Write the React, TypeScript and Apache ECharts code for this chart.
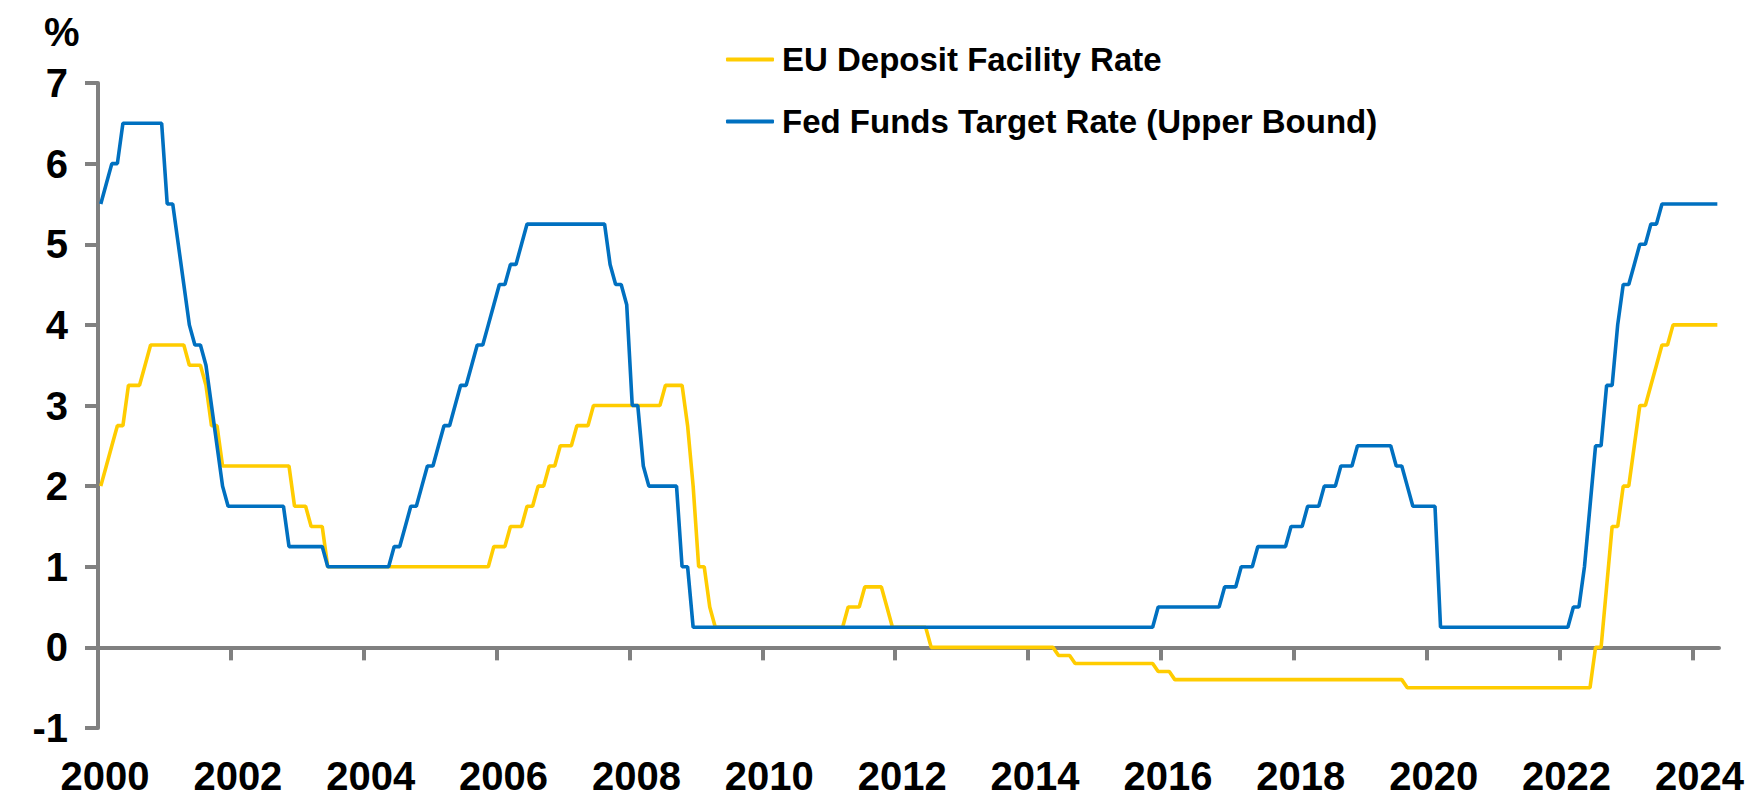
import React, { useEffect, useRef } from "react";
import * as echarts from "echarts";

// Monthly observations, Jan 2000 – May 2024 (month-end policy rate, %)
const startYear = 2000;
const endYear = 2024;
const lastMonthOfEndYear = 5; // data through May 2024

const depositRate: number[] = [
  // 2000
  2.0, 2.25, 2.5, 2.75, 2.75, 3.25, 3.25, 3.25, 3.5, 3.75, 3.75, 3.75,
  // 2001
  3.75, 3.75, 3.75, 3.75, 3.5, 3.5, 3.5, 3.25, 2.75, 2.75, 2.25, 2.25,
  // 2002
  2.25, 2.25, 2.25, 2.25, 2.25, 2.25, 2.25, 2.25, 2.25, 2.25, 2.25, 1.75,
  // 2003
  1.75, 1.75, 1.5, 1.5, 1.5, 1.0, 1.0, 1.0, 1.0, 1.0, 1.0, 1.0,
  // 2004
  1.0, 1.0, 1.0, 1.0, 1.0, 1.0, 1.0, 1.0, 1.0, 1.0, 1.0, 1.0,
  // 2005
  1.0, 1.0, 1.0, 1.0, 1.0, 1.0, 1.0, 1.0, 1.0, 1.0, 1.0, 1.25,
  // 2006
  1.25, 1.25, 1.5, 1.5, 1.5, 1.75, 1.75, 2.0, 2.0, 2.25, 2.25, 2.5,
  // 2007
  2.5, 2.5, 2.75, 2.75, 2.75, 3.0, 3.0, 3.0, 3.0, 3.0, 3.0, 3.0,
  // 2008
  3.0, 3.0, 3.0, 3.0, 3.0, 3.0, 3.25, 3.25, 3.25, 3.25, 2.75, 2.0,
  // 2009
  1.0, 1.0, 0.5, 0.25, 0.25, 0.25, 0.25, 0.25, 0.25, 0.25, 0.25, 0.25,
  // 2010
  0.25, 0.25, 0.25, 0.25, 0.25, 0.25, 0.25, 0.25, 0.25, 0.25, 0.25, 0.25,
  // 2011
  0.25, 0.25, 0.25, 0.5, 0.5, 0.5, 0.75, 0.75, 0.75, 0.75, 0.5, 0.25,
  // 2012
  0.25, 0.25, 0.25, 0.25, 0.25, 0.25, 0.0, 0.0, 0.0, 0.0, 0.0, 0.0,
  // 2013
  0.0, 0.0, 0.0, 0.0, 0.0, 0.0, 0.0, 0.0, 0.0, 0.0, 0.0, 0.0,
  // 2014
  0.0, 0.0, 0.0, 0.0, 0.0, -0.1, -0.1, -0.1, -0.2, -0.2, -0.2, -0.2,
  // 2015
  -0.2, -0.2, -0.2, -0.2, -0.2, -0.2, -0.2, -0.2, -0.2, -0.2, -0.2, -0.3,
  // 2016
  -0.3, -0.3, -0.4, -0.4, -0.4, -0.4, -0.4, -0.4, -0.4, -0.4, -0.4, -0.4,
  // 2017
  -0.4, -0.4, -0.4, -0.4, -0.4, -0.4, -0.4, -0.4, -0.4, -0.4, -0.4, -0.4,
  // 2018
  -0.4, -0.4, -0.4, -0.4, -0.4, -0.4, -0.4, -0.4, -0.4, -0.4, -0.4, -0.4,
  // 2019
  -0.4, -0.4, -0.4, -0.4, -0.4, -0.4, -0.4, -0.4, -0.5, -0.5, -0.5, -0.5,
  // 2020
  -0.5, -0.5, -0.5, -0.5, -0.5, -0.5, -0.5, -0.5, -0.5, -0.5, -0.5, -0.5,
  // 2021
  -0.5, -0.5, -0.5, -0.5, -0.5, -0.5, -0.5, -0.5, -0.5, -0.5, -0.5, -0.5,
  // 2022
  -0.5, -0.5, -0.5, -0.5, -0.5, -0.5, 0.0, 0.0, 0.75, 1.5, 1.5, 2.0,
  // 2023
  2.0, 2.5, 3.0, 3.0, 3.25, 3.5, 3.75, 3.75, 4.0, 4.0, 4.0, 4.0,
  // 2024
  4.0, 4.0, 4.0, 4.0, 4.0,
];

const fedFundsUpper: number[] = [
  // 2000
  5.5, 5.75, 6.0, 6.0, 6.5, 6.5, 6.5, 6.5, 6.5, 6.5, 6.5, 6.5,
  // 2001
  5.5, 5.5, 5.0, 4.5, 4.0, 3.75, 3.75, 3.5, 3.0, 2.5, 2.0, 1.75,
  // 2002
  1.75, 1.75, 1.75, 1.75, 1.75, 1.75, 1.75, 1.75, 1.75, 1.75, 1.25, 1.25,
  // 2003
  1.25, 1.25, 1.25, 1.25, 1.25, 1.0, 1.0, 1.0, 1.0, 1.0, 1.0, 1.0,
  // 2004
  1.0, 1.0, 1.0, 1.0, 1.0, 1.25, 1.25, 1.5, 1.75, 1.75, 2.0, 2.25,
  // 2005
  2.25, 2.5, 2.75, 2.75, 3.0, 3.25, 3.25, 3.5, 3.75, 3.75, 4.0, 4.25,
  // 2006
  4.5, 4.5, 4.75, 4.75, 5.0, 5.25, 5.25, 5.25, 5.25, 5.25, 5.25, 5.25,
  // 2007
  5.25, 5.25, 5.25, 5.25, 5.25, 5.25, 5.25, 5.25, 4.75, 4.5, 4.5, 4.25,
  // 2008
  3.0, 3.0, 2.25, 2.0, 2.0, 2.0, 2.0, 2.0, 2.0, 1.0, 1.0, 0.25,
  // 2009
  0.25, 0.25, 0.25, 0.25, 0.25, 0.25, 0.25, 0.25, 0.25, 0.25, 0.25, 0.25,
  // 2010
  0.25, 0.25, 0.25, 0.25, 0.25, 0.25, 0.25, 0.25, 0.25, 0.25, 0.25, 0.25,
  // 2011
  0.25, 0.25, 0.25, 0.25, 0.25, 0.25, 0.25, 0.25, 0.25, 0.25, 0.25, 0.25,
  // 2012
  0.25, 0.25, 0.25, 0.25, 0.25, 0.25, 0.25, 0.25, 0.25, 0.25, 0.25, 0.25,
  // 2013
  0.25, 0.25, 0.25, 0.25, 0.25, 0.25, 0.25, 0.25, 0.25, 0.25, 0.25, 0.25,
  // 2014
  0.25, 0.25, 0.25, 0.25, 0.25, 0.25, 0.25, 0.25, 0.25, 0.25, 0.25, 0.25,
  // 2015
  0.25, 0.25, 0.25, 0.25, 0.25, 0.25, 0.25, 0.25, 0.25, 0.25, 0.25, 0.5,
  // 2016
  0.5, 0.5, 0.5, 0.5, 0.5, 0.5, 0.5, 0.5, 0.5, 0.5, 0.5, 0.75,
  // 2017
  0.75, 0.75, 1.0, 1.0, 1.0, 1.25, 1.25, 1.25, 1.25, 1.25, 1.25, 1.5,
  // 2018
  1.5, 1.5, 1.75, 1.75, 1.75, 2.0, 2.0, 2.0, 2.25, 2.25, 2.25, 2.5,
  // 2019
  2.5, 2.5, 2.5, 2.5, 2.5, 2.5, 2.25, 2.25, 2.0, 1.75, 1.75, 1.75,
  // 2020
  1.75, 1.75, 0.25, 0.25, 0.25, 0.25, 0.25, 0.25, 0.25, 0.25, 0.25, 0.25,
  // 2021
  0.25, 0.25, 0.25, 0.25, 0.25, 0.25, 0.25, 0.25, 0.25, 0.25, 0.25, 0.25,
  // 2022
  0.25, 0.25, 0.5, 0.5, 1.0, 1.75, 2.5, 2.5, 3.25, 3.25, 4.0, 4.5,
  // 2023
  4.5, 4.75, 5.0, 5.0, 5.25, 5.25, 5.5, 5.5, 5.5, 5.5, 5.5, 5.5,
  // 2024
  5.5, 5.5, 5.5, 5.5, 5.5,
];

const yearTicks = [2002, 2004, 2006, 2008, 2010, 2012, 2014, 2016, 2018, 2020, 2022, 2024];
const yearLabels = [2000, 2002, 2004, 2006, 2008, 2010, 2012, 2014, 2016, 2018, 2020, 2022, 2024];
const seriesNames = ["EU Deposit Facility Rate", "Fed Funds Target Rate (Upper Bound)"];
const seriesColors = ["#FFCC00", "#0070C0"];

// month positions (mid-month, in decimal years)
const monthPositions: number[] = [];
for (let y = startYear; y <= endYear; y++) {
  const last = y === endYear ? lastMonthOfEndYear : 12;
  for (let m = 0; m < last; m++) monthPositions.push(y + (m + 0.5) / 12);
}

const AXIS_GRAY = "#808080";
const FONT = "'Liberation Sans', Arial, sans-serif";

export default function App() {
  const ref = useRef<HTMLDivElement>(null);

  useEffect(() => {
    if (!ref.current) return;
    const chart = echarts.init(ref.current, undefined, { renderer: "svg" });
    const xMin = 2000;
    const xMax = 2024.4;

    chart.setOption({
      animation: false,
      backgroundColor: "#ffffff",
      grid: { left: 98, right: 29, top: 83, bottom: 71, containLabel: false },
      legend: {
        orient: "vertical",
        left: 721,
        top: 38,
        itemWidth: 48,
        itemHeight: 4,
        itemGap: 29,
        icon: "roundRect",
        data: seriesNames,
        textStyle: {
          fontFamily: FONT,
          fontSize: 33,
          fontWeight: "bold",
          color: "#000",
          lineHeight: 33,
          padding: [0, 0, 0, 3],
        },
      },
      graphic: [
        {
          type: "text",
          left: 44,
          top: 12,
          style: {
            text: "%",
            fontFamily: FONT,
            fontSize: 40,
            fontWeight: "bold",
            fill: "#000",
          },
        },
      ],
      xAxis: [
        {
          type: "value",
          min: xMin,
          max: xMax,
          position: "top",
          axisLine: { show: true, onZero: true, lineStyle: { color: AXIS_GRAY, width: 4 } },
          axisTick: {
            show: true,
            inside: true,
            length: 13,
            customValues: yearTicks,
            lineStyle: { color: AXIS_GRAY, width: 4 },
          },
          axisLabel: { show: false },
          splitLine: { show: false },
        },
        {
          type: "value",
          min: xMin,
          max: xMax,
          position: "bottom",
          axisLine: { show: false, onZero: false },
          axisTick: { show: false },
          splitLine: { show: false },
          axisLabel: {
            show: true,
            customValues: yearLabels,
            formatter: (v: number) => String(Math.round(v)),
            fontFamily: FONT,
            fontSize: 40,
            fontWeight: "bold",
            color: "#000",
            margin: 28,
            padding: [0, 0, 0, 14],
          },
        },
      ],
      yAxis: {
        type: "value",
        min: -1,
        max: 7,
        interval: 1,
        axisLine: { show: true, onZero: false, lineStyle: { color: AXIS_GRAY, width: 4 } },
        axisTick: { show: true, length: 13, lineStyle: { color: AXIS_GRAY, width: 4 } },
        axisLabel: {
          fontFamily: FONT,
          fontSize: 40,
          fontWeight: "bold",
          color: "#000",
          margin: 30,
          formatter: (v: number) => String(v),
        },
        splitLine: { show: false },
      },
      series: [
        {
          name: seriesNames[0],
          type: "line",
          xAxisIndex: 0,
          data: monthPositions.map((x, i) => [x, depositRate[i]]),
          showSymbol: false,
          symbol: "none",
          lineStyle: { width: 3.6, color: seriesColors[0] },
          itemStyle: { color: seriesColors[0] },
          z: 2,
        },
        {
          name: seriesNames[1],
          type: "line",
          xAxisIndex: 0,
          data: monthPositions.map((x, i) => [x, fedFundsUpper[i]]),
          showSymbol: false,
          symbol: "none",
          lineStyle: { width: 3.6, color: seriesColors[1] },
          itemStyle: { color: seriesColors[1] },
          z: 3,
        },
      ],
    });

    return () => chart.dispose();
  }, []);

  return (
    <div
      ref={ref}
      style={{ position: "fixed", left: 0, top: 0, width: 1748, height: 799 }}
    />
  );
}
